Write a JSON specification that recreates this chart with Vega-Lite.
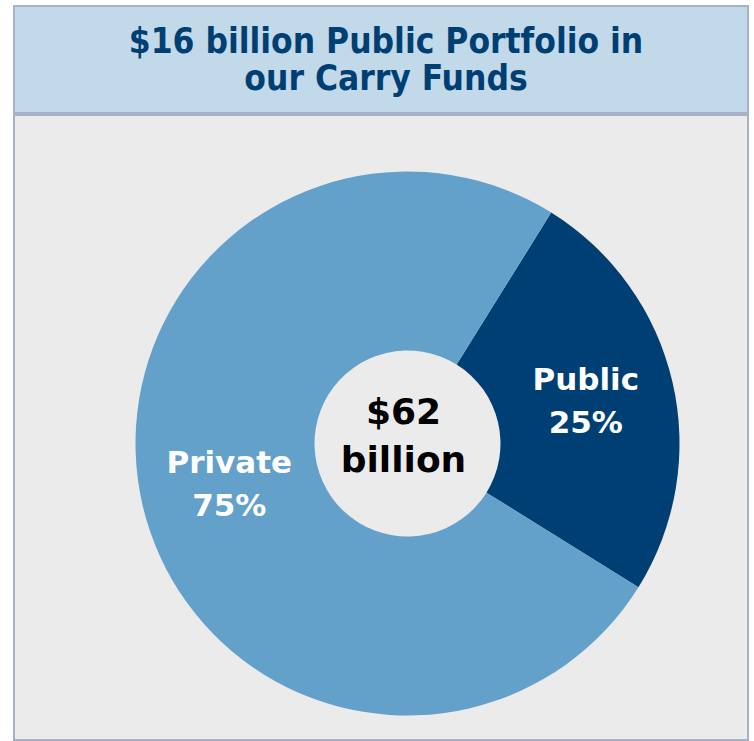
{
  "$schema": "https://vega.github.io/schema/vega-lite/v6.json",
  "padding": {"left": 13, "top": 5, "right": 7, "bottom": 4},
  "background": "#ffffff",
  "config": {"view": {"stroke": "#a9b1c9", "strokeWidth": 2}, "concat": {"spacing": 0}},
  "spacing": 0,
  "vconcat": [
    {
      "width": 734,
      "height": 107,
      "view": {"fill": "#c2d9ea", "stroke": "#a9b1c9", "strokeWidth": 2},
      "data": {"values": [{"title": "$16 billion Public Portfolio in\nour Carry Funds"}]},
      "mark": {"type": "text", "font": "DejaVu Sans Condensed, DejaVu Sans", "fontWeight": "bold", "fontSize": 35, "color": "#003f73", "lineBreak": "\n", "lineHeight": 37, "align": "center", "baseline": "middle", "dx": 5, "dy": -18},
      "encoding": {"text": {"field": "title", "type": "nominal"}}
    },
    {
      "width": 734,
      "height": 625,
      "view": {"fill": "#ebebeb", "stroke": "#a9b1c9", "strokeWidth": 2},
      "data": {"values": [
        {"segment": "Public", "share": 0.25},
        {"segment": "Private", "share": 0.75}
      ]},
      "layer": [
        {
          "mark": {"type": "arc", "radius": 272, "innerRadius": 93, "strokeWidth": 0, "xOffset": 26.5, "yOffset": 16},
          "encoding": {
            "theta": {"field": "share", "type": "quantitative", "stack": true, "scale": {"range": [0.5567, 6.8399]}},
            "order": {"field": "segment", "type": "ordinal", "sort": "descending"},
            "color": {"field": "segment", "type": "nominal", "scale": {"domain": ["Public", "Private"], "range": ["#003f74", "#63a0ca"]}, "legend": null}
          }
        },
        {
          "mark": {"type": "text", "radius": 183, "font": "DejaVu Sans", "fontWeight": "bold", "fontSize": 31, "fill": "#ffffff", "align": "center", "baseline": "middle", "xOffset": 26.5, "yOffset": -5},
          "encoding": {
            "theta": {"field": "share", "type": "quantitative", "stack": true},
            "order": {"field": "segment", "type": "ordinal", "sort": "descending"},
            "detail": {"field": "segment", "type": "nominal"},
            "text": {"field": "segment", "type": "nominal"}
          }
        },
        {
          "mark": {"type": "text", "radius": 183, "font": "DejaVu Sans", "fontWeight": "bold", "fontSize": 31, "fill": "#ffffff", "align": "center", "baseline": "middle", "xOffset": 26.5, "yOffset": 38},
          "encoding": {
            "theta": {"field": "share", "type": "quantitative", "stack": true},
            "order": {"field": "segment", "type": "ordinal", "sort": "descending"},
            "detail": {"field": "segment", "type": "nominal"},
            "text": {"field": "share", "type": "quantitative", "format": ".0%"}
          }
        },
        {
          "data": {"values": [{"total": "$62 billion"}]},
          "mark": {"type": "text", "font": "DejaVu Sans", "fontWeight": "bold", "fontSize": 36, "fill": "#000000", "lineBreak": " ", "lineHeight": 48, "align": "center", "baseline": "middle", "xOffset": 22.5, "yOffset": -15},
          "encoding": {"text": {"field": "total", "type": "nominal"}}
        }
      ]
    }
  ]
}
